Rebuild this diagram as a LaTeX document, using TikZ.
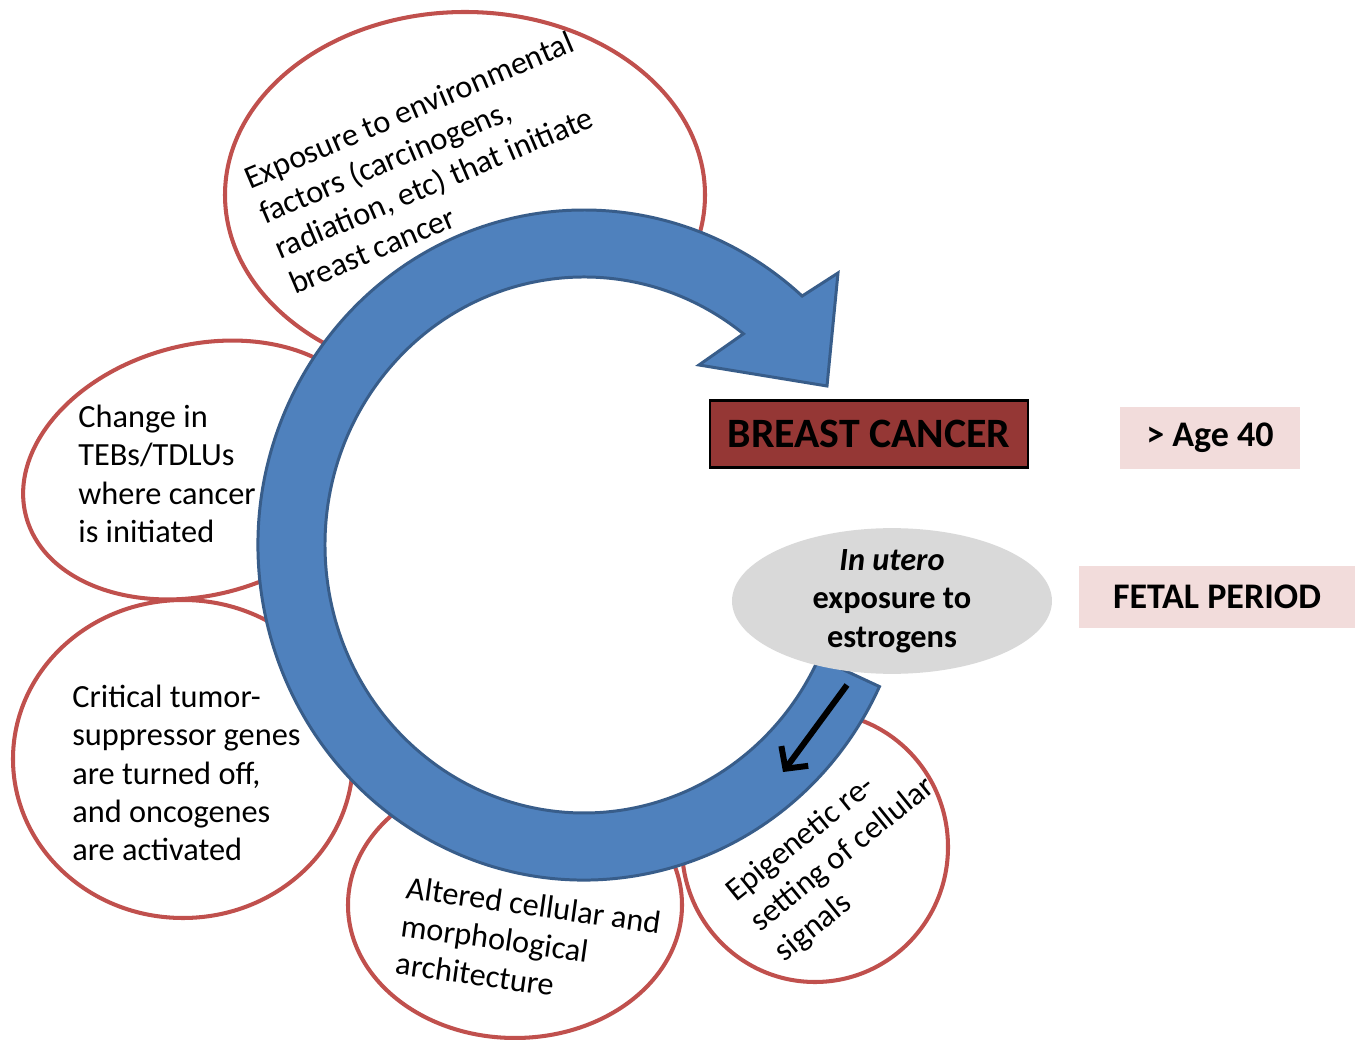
\documentclass[tikz,border=0pt]{standalone}
\usepackage{fontspec}
\setmainfont{Carlito}
\usetikzlibrary{arrows.meta,shapes.geometric}
\definecolor{bubred}{HTML}{C0504D}
\definecolor{arrowblue}{HTML}{4F81BD}
\definecolor{arrowedge}{HTML}{385D8A}
\definecolor{cancerred}{HTML}{953735}
\definecolor{stagepink}{HTML}{F2DCDB}
\definecolor{uterogray}{HTML}{D9D9D9}
\newcommand{\bubfont}{\fontsize{18.4}{21.8}\selectfont}
\newcommand{\tagfont}{\fontsize{20.5}{24}\selectfont\bfseries}
\tikzset{
  bubble/.style={draw=bubred, line width=2.3pt, fill=white},
  bubtext/.style={font=\bubfont, align=left, inner sep=0pt, anchor=west},
  stagebox/.style={fill=stagepink, font=\tagfont, inner sep=0pt, minimum height=1.24cm},
  bigarrow/.style={fill=arrowblue, draw=arrowedge, line width=1.7pt},
  push/.style={line width=3.4pt, -{Straight Barb[length=9pt,width=19pt]}},
}
\begin{document}
\begin{tikzpicture}[x=0.02cm, y=-0.02cm]
  \useasboundingbox (0,0) rectangle (1360,1040);
  % bubbles round the cycle
  \draw[bubble] (465,195) ellipse [x radius=240, y radius=183];
  \draw[bubble, rotate around={15:(200,470)}] (200,470) ellipse [x radius=180, y radius=125];
  \draw[bubble] (183,759) ellipse [x radius=170, y radius=159];
  \draw[bubble] (515,905) ellipse [x radius=167, y radius=133];
  \draw[bubble] (815,847) ellipse [x radius=133, y radius=135];

  \node[bubtext, rotate=23] (expo) at (268,232) {Exposure to environmental\\factors (carcinogens,\\radiation, etc) that initiate\\breast cancer};
  \node[bubtext] (teb) at (78,474) {Change in\\TEBs/TDLUs\\where cancer\\is initiated};
  \node[bubtext] (gene) at (72,773) {Critical tumor-\\suppressor genes\\are turned off,\\and oncogenes\\are activated};
  \node[bubtext, rotate=-8] (arch) at (401,925) {Altered cellular and\\morphological\\architecture};
  \node[bubtext, rotate=39] (epi) at (755,926) {Epigenetic re-\\setting of cellular\\signals};

  % the cycle arrow, with a white hole
  \coordinate (ctr) at (584,545);
  \fill[white] (ctr) ellipse [x radius=259, y radius=268];
  \draw[bigarrow] ([shift={(25:326 and 335)}]ctr)
    arc[start angle=25, end angle=312, x radius=326, y radius=335]
    -- (838,273) -- (827,386) -- (699,365)
    -- ([shift={(308:259 and 268)}]ctr)
    arc[start angle=308, end angle=25, x radius=259, y radius=268] -- cycle;
  \coordinate (pushA) at (847,685);
  \coordinate (pushB) at (783,772);
  \draw[push] (pushA) -- (pushB);

  \node[ellipse, fill=uterogray, minimum width=6.4cm, minimum height=2.48cm, inner sep=0pt,
    font=\bubfont\bfseries, align=center] (utero) at (892,601) {\textit{In utero}\\exposure to\\estrogens};
  \node[draw=black, line width=1.2pt, fill=cancerred, minimum width=6.36cm, minimum height=1.34cm,
    inner sep=0pt, font=\fontsize{23.8}{28}\selectfont\bfseries] (cancer) at (869,434) {BREAST CANCER};
  \node[stagebox, minimum width=3.6cm] (age) at (1210,438) {> Age 40};
  \node[stagebox, minimum width=5.52cm] (fetal) at (1217,597) {FETAL PERIOD};
\end{tikzpicture}
\end{document}
